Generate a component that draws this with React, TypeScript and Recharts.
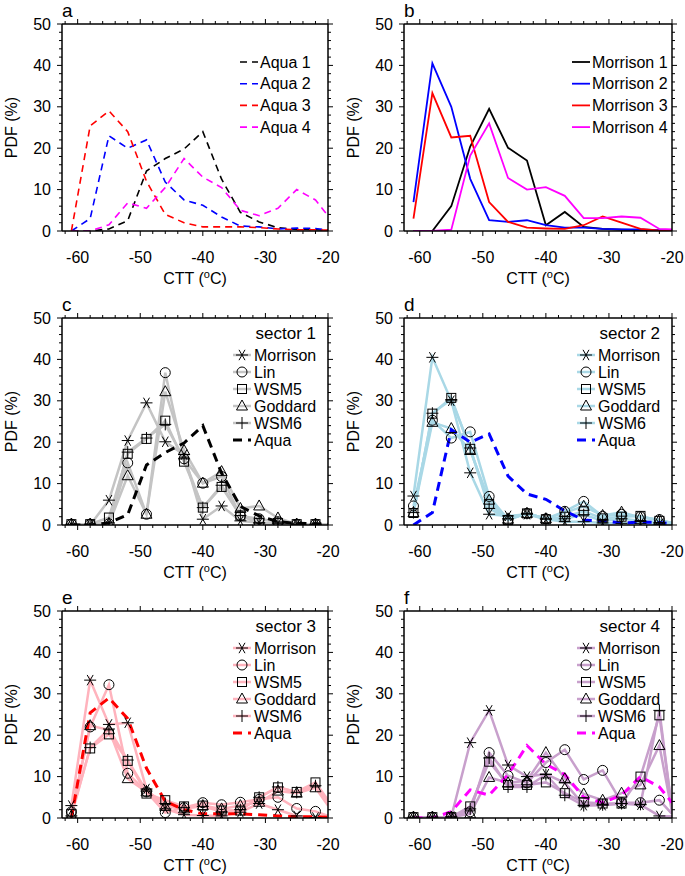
import React from 'react';
import { LineChart, Line, XAxis, YAxis } from 'recharts';

const FONT = '"Liberation Sans", Arial, Helvetica, sans-serif';

// CTT bin centres (°C)
const ctt = [-61, -58, -55, -52, -49, -46, -43, -40, -37, -34, -31, -28, -25, -22, -20];

// axis ticks
const xTickValues = [-62, -60, -58, -56, -54, -52, -50, -48, -46, -44, -42, -40, -38, -36, -34, -32, -30, -28, -26, -24, -22, -20];
const yTickValues = [0, 2, 4, 6, 8, 10, 12, 14, 16, 18, 20, 22, 24, 26, 28, 30, 32, 34, 36, 38, 40, 42, 44, 46, 48, 50];
const xMajorLabels = [-60, -50, -40, -30, -20];
const yMajorLabels = [0, 10, 20, 30, 40, 50];

// Aqua observations (PDF %)
const aqua1 = [0, 0, 0.5, 2.5, 14.5, 17.5, 19.8, 24, 12.5, 4.5, 2.2, 0.8, 0.4, 0.3, 0.2];
const aqua2 = [0, 3, 23, 20, 22, 11.8, 7.5, 6.2, 3.4, 1.2, 1, 0.5, 0.7, 0.6, 0.3];
const aqua3 = [0, 25.4, 29, 24, 12, 4, 2, 1, 1, 1, 0.8, 0.5, 0.3, 0.3, 0.2];
const aqua4 = [0, 0, 1.5, 6.8, 5.5, 10.5, 17.5, 13, 10.5, 5, 3.7, 5.5, 10, 7.5, 3.7];

// Morrison scheme per sector
const morrison1 = [0, 0, 6, 20.4, 29.5, 20.1, 17, 1.4, 4.6, 1, 0.5, 0.3, 0.2, 0.1, 0];
const morrison2 = [7, 40.5, 30, 12.6, 2.6, 2.2, 2.6, 1.4, 0.8, 0.8, 0.5, 0.4, 0.4, 0.2, 0.1];
const morrison3 = [3, 33.3, 22.6, 23, 7, 2.2, 0.8, 0.6, 0.5, 1.4, 3.5, 2, 0.5, 0.1, 0];
const morrison4 = [0, 0, 0.3, 18.2, 26, 12.8, 10, 10.6, 8.5, 3.1, 3.1, 3.5, 3.2, 0.5, 0.4];

// Sector 1
const lin1 = [0.2, 0.2, 0.3, 15, 2.6, 36.8, 16, 10.1, 11.7, 2.2, 1.5, 0.8, 0.2, 0.2, 0];
const wsm5_1 = [0.2, 0.2, 1.8, 17.2, 20.8, 25.2, 15.3, 4.2, 9.2, 2.3, 0.5, 0.5, 0.2, 0.2, 0];
const goddard1 = [0.2, 0.2, 0.3, 11.9, 2.6, 32.2, 18, 10.1, 12.9, 4, 4.6, 1.7, 0.2, 0.2, 0];
const wsm6_1 = [0.2, 0.2, 0.5, 17.6, 21, 24.3, 16, 4.2, 9.6, 2.3, 0.5, 0.5, 0.2, 0.2, 0];

// Sector 2
const lin2 = [4.6, 25.3, 21, 22.5, 6.9, 1.3, 2.8, 1.5, 3.3, 5.7, 2.1, 2.6, 2, 1.3, 0.5];
const wsm5_2 = [2.9, 26.9, 30.7, 18.4, 5.1, 1.2, 2.8, 1.4, 2, 3.3, 1.6, 2, 2.2, 1, 0.4];
const goddard2 = [3, 24.8, 23.3, 18, 6, 1.4, 2.8, 1.5, 3, 4.5, 2.3, 3.1, 1.8, 1.2, 0.5];
const wsm6_2 = [3, 27, 30.3, 18.6, 4, 1.5, 2.8, 1.5, 1.5, 2.5, 1, 1.5, 1, 0.6, 0.3];

// Sector 3
const lin3 = [1.5, 22, 32.2, 10.8, 6.3, 1.3, 2.5, 3.7, 3.2, 3.8, 4.5, 5, 2.3, 1.6, 0.5];
const wsm5_3 = [1, 16.8, 20.2, 13.8, 5.9, 4.3, 2.8, 3, 1.8, 1.8, 5, 7.4, 6.3, 8.6, 4.3];
const goddard3 = [0.5, 22.3, 21.3, 9.5, 6.3, 2.8, 2.2, 3, 2.2, 3, 3.8, 6.5, 6, 7.3, 3];
const wsm6_3 = [0.5, 17, 21.5, 14, 6.5, 3.5, 2.5, 2.8, 1.5, 2, 5, 7.5, 6.2, 7.8, 4];

// Sector 4
const lin4 = [0.2, 0.2, 0.2, 1.5, 15.8, 10.2, 8.5, 13.4, 16.5, 9.3, 11.5, 3.7, 3.7, 4.3, 1];
const wsm5_4 = [0.2, 0.2, 0.2, 2.8, 13.6, 8, 8, 8.6, 6, 3.8, 3.5, 3.5, 10, 24.8, 2];
const goddard4 = [0.2, 0.2, 0.2, 1, 9.8, 8.5, 9, 15.8, 9.5, 5.8, 4.3, 6, 8, 17.5, 1.5];
const wsm6_4 = [0.2, 0.2, 0.2, 2.2, 14.5, 7.5, 7.5, 10.5, 5.5, 3, 3.2, 3.5, 3.3, 26, 2];

type Shape = 'asterisk' | 'circle' | 'square' | 'triangle' | 'plus';
type Series = {
  key: string;
  name: string;
  values: number[];
  color: string;
  width: number;
  dash?: string;
  marker?: Shape;
};

function Marker({ shape, cx, cy }: { shape: Shape; cx: number; cy: number }) {
  const st = { fill: 'none', stroke: '#000', strokeWidth: 1 };
  if (shape === 'circle') return <circle cx={cx} cy={cy} r={5} {...st} />;
  if (shape === 'square') return <rect x={cx - 4.5} y={cy - 4.5} width={9} height={9} {...st} />;
  if (shape === 'triangle')
    return <polygon points={`${cx},${cy - 6} ${cx - 5.5},${cy + 4} ${cx + 5.5},${cy + 4}`} {...st} />;
  if (shape === 'plus')
    return <path d={`M${cx - 6},${cy}H${cx + 6}M${cx},${cy - 6}V${cy + 6}`} {...st} />;
  const r = 6;
  const d = [0, 60, 120]
    .map((a) => {
      const t = (a * Math.PI) / 180;
      const dx = r * Math.cos(t);
      const dy = r * Math.sin(t);
      return `M${cx - dx},${cy - dy}L${cx + dx},${cy + dy}`;
    })
    .join('');
  return <path d={d} {...st} />;
}

const makeDot = (shape: Shape) => (props: any) => {
  const { cx, cy, payload, index } = props;
  if (cx == null || cy == null || payload.x === -20) return <g key={`d${index}`} />;
  return <Marker key={`d${index}`} shape={shape} cx={cx} cy={cy} />;
};

const XTick = (props: any) => {
  const { x, y, payload, side } = props;
  const v = payload.value;
  const major = v % 10 === 0;
  const len = major ? 5 : 3;
  const dir = side === 'bottom' ? 1 : -1;
  return (
    <g>
      <line x1={x} x2={x} y1={y} y2={y + dir * len} stroke="#000" strokeWidth={1} />
      {side === 'bottom' && xMajorLabels.includes(v) && (
        <text x={x} y={y + 26} textAnchor="middle" dominantBaseline="central" fontSize={16} fontFamily={FONT} fill="#000">
          {String(v)}
        </text>
      )}
    </g>
  );
};

const YTick = (props: any) => {
  const { x, y, payload, side } = props;
  const v = payload.value;
  const major = v % 10 === 0;
  const len = major ? 5 : 3;
  const dir = side === 'left' ? -1 : 1;
  return (
    <g>
      <line x1={x} x2={x + dir * len} y1={y} y2={y} stroke="#000" strokeWidth={1} />
      {side === 'left' && yMajorLabels.includes(v) && (
        <text x={x - 11} y={y} textAnchor="end" dominantBaseline="central" fontSize={16} fontFamily={FONT} fill="#000">
          {String(v)}
        </text>
      )}
    </g>
  );
};

type PanelProps = {
  left: number;
  top: number;
  plotW: number;
  letter: string;
  series: Series[];
  sector?: string;
  legendLineStart: number; // offset from frame right
};

const FRAME_L = 62;
const FRAME_T = 24;
const FRAME_B = 231;
const CHART_H = 287;

function Panel({ left, top, plotW, letter, series, sector, legendLineStart }: PanelProps) {
  const chartW = FRAME_L + plotW + 13;
  const frameR = FRAME_L + plotW;
  const rows = ctt.map((x, i) => {
    const r: any = { x };
    series.forEach((s) => {
      r[s.key] = s.values[i];
    });
    return r;
  });
  const axisLine = { stroke: '#000', strokeWidth: 1.5 };
  return (
    <div style={{ position: 'absolute', left, top, width: chartW, height: CHART_H }}>
      <LineChart
        width={chartW}
        height={CHART_H}
        data={rows}
        margin={{ top: FRAME_T - 5, left: FRAME_L - 30, right: chartW - frameR - 5, bottom: CHART_H - FRAME_B - 20 }}
      >
        <XAxis
          xAxisId="b"
          type="number"
          dataKey="x"
          domain={[-62.5, -20]}
          allowDataOverflow
          ticks={xTickValues}
          interval={0}
          height={20}
          tickSize={0}
          tickMargin={0}
          tickLine={false}
          axisLine={axisLine}
          tick={<XTick side="bottom" />}
        />
        <XAxis
          xAxisId="t"
          orientation="top"
          type="number"
          dataKey="x"
          domain={[-62.5, -20]}
          allowDataOverflow
          ticks={xTickValues}
          interval={0}
          height={5}
          tickSize={0}
          tickMargin={0}
          tickLine={false}
          axisLine={axisLine}
          tick={<XTick side="top" />}
        />
        <YAxis
          yAxisId="l"
          type="number"
          domain={[0, 50]}
          allowDataOverflow
          ticks={yTickValues}
          interval={0}
          width={30}
          tickSize={0}
          tickMargin={0}
          tickLine={false}
          axisLine={axisLine}
          tick={<YTick side="left" />}
        />
        <YAxis
          yAxisId="r"
          orientation="right"
          type="number"
          domain={[0, 50]}
          allowDataOverflow
          ticks={yTickValues}
          interval={0}
          width={5}
          tickSize={0}
          tickMargin={0}
          tickLine={false}
          axisLine={axisLine}
          tick={<YTick side="right" />}
        />
        {series.map((s) => (
          <Line
            key={s.key}
            xAxisId="b"
            yAxisId="l"
            type="linear"
            dataKey={s.key}
            stroke={s.color}
            strokeWidth={s.width}
            strokeDasharray={s.dash}
            dot={s.marker ? makeDot(s.marker) : false}
            activeDot={false}
            isAnimationActive={false}
          />
        ))}
      </LineChart>
      <svg
        width={chartW}
        height={CHART_H}
        style={{ position: 'absolute', left: 0, top: 0, pointerEvents: 'none' }}
        fontFamily={FONT}
      >
        <text x={FRAME_L} y={17} fontSize={19} fill="#000">
          {letter}
        </text>
        <text
          x={11}
          y={(FRAME_T + FRAME_B) / 2}
          fontSize={16}
          fill="#000"
          textAnchor="middle"
          dominantBaseline="central"
          transform={`rotate(-90 11 ${(FRAME_T + FRAME_B) / 2})`}
        >
          PDF (%)
        </text>
        <text x={FRAME_L + plotW / 2} y={FRAME_B + 53} fontSize={16} fill="#000" textAnchor="middle">
          CTT (<tspan dy={-6} fontSize={11}>o</tspan>
          <tspan dy={6}>C)</tspan>
        </text>
        {sector ? (
          <g>
            <text x={frameR - 12} y={FRAME_T + 21} fontSize={17} fill="#000" textAnchor="end">
              {sector}
            </text>
            {series.map((s, i) => {
              const cy = FRAME_T + 37 + 17 * i;
              return (
                <g key={s.key}>
                  <line
                    x1={frameR - legendLineStart}
                    x2={frameR - legendLineStart + 18}
                    y1={cy}
                    y2={cy}
                    stroke={s.color}
                    strokeWidth={s.width}
                    strokeDasharray={s.dash}
                  />
                  {s.marker && <Marker shape={s.marker} cx={frameR - legendLineStart + 9} cy={cy} />}
                  <text x={frameR - legendLineStart + 21} y={cy} fontSize={16} fill="#000" dominantBaseline="central">
                    {s.name}
                  </text>
                </g>
              );
            })}
          </g>
        ) : (
          <g>
            {series.map((s, i) => {
              const cy = FRAME_T + 38 + 21.7 * i;
              return (
                <g key={s.key}>
                  <line
                    x1={frameR - legendLineStart}
                    x2={frameR - legendLineStart + 18}
                    y1={cy}
                    y2={cy}
                    stroke={s.color}
                    strokeWidth={s.width}
                    strokeDasharray={s.dash}
                  />
                  <text x={frameR - legendLineStart + 20} y={cy} fontSize={16} fill="#000" dominantBaseline="central">
                    {s.name}
                  </text>
                </g>
              );
            })}
          </g>
        )}
      </svg>
    </div>
  );
}

const AQ_DASH_THIN = '7 5';
const AQ_DASH = '9 6';

function sectorSeries(
  morrison: number[],
  lin: number[],
  wsm5: number[],
  goddard: number[],
  wsm6: number[],
  aqua: number[],
  lineColor: string,
  aquaColor: string
): Series[] {
  return [
    { key: 'morrison', name: 'Morrison', values: morrison, color: lineColor, width: 2.5, marker: 'asterisk' },
    { key: 'lin', name: 'Lin', values: lin, color: lineColor, width: 2.5, marker: 'circle' },
    { key: 'wsm5', name: 'WSM5', values: wsm5, color: lineColor, width: 2.5, marker: 'square' },
    { key: 'goddard', name: 'Goddard', values: goddard, color: lineColor, width: 2.5, marker: 'triangle' },
    { key: 'wsm6', name: 'WSM6', values: wsm6, color: lineColor, width: 2.5, marker: 'plus' },
    { key: 'aqua', name: 'Aqua', values: aqua, color: aquaColor, width: 3, dash: AQ_DASH },
  ];
}

export default function App() {
  const aSeries: Series[] = [
    { key: 'a1', name: 'Aqua 1', values: aqua1, color: '#000000', width: 1.6, dash: AQ_DASH_THIN },
    { key: 'a2', name: 'Aqua 2', values: aqua2, color: '#0000ff', width: 1.6, dash: AQ_DASH_THIN },
    { key: 'a3', name: 'Aqua 3', values: aqua3, color: '#ff0000', width: 1.6, dash: AQ_DASH_THIN },
    { key: 'a4', name: 'Aqua 4', values: aqua4, color: '#ff00ff', width: 1.6, dash: AQ_DASH_THIN },
  ];
  const bSeries: Series[] = [
    { key: 'm1', name: 'Morrison 1', values: morrison1, color: '#000000', width: 1.8 },
    { key: 'm2', name: 'Morrison 2', values: morrison2, color: '#0000ff', width: 1.8 },
    { key: 'm3', name: 'Morrison 3', values: morrison3, color: '#ff0000', width: 1.8 },
    { key: 'm4', name: 'Morrison 4', values: morrison4, color: '#ff00ff', width: 1.8 },
  ];
  return (
    <div
      style={{
        position: 'absolute',
        left: 0,
        top: 0,
        width: 685,
        height: 876,
        overflow: 'hidden',
        background: '#fff',
      }}
    >
      <Panel left={0} top={0} plotW={266} letter="a" series={aSeries} legendLineStart={88} />
      <Panel left={342} top={0} plotW={268} letter="b" series={bSeries} legendLineStart={100} />
      <Panel
        left={0}
        top={294}
        plotW={266}
        letter="c"
        sector="sector 1"
        series={sectorSeries(morrison1, lin1, wsm5_1, goddard1, wsm6_1, aqua1, '#c4c4c4', '#000000')}
        legendLineStart={95}
      />
      <Panel
        left={342}
        top={294}
        plotW={268}
        letter="d"
        sector="sector 2"
        series={sectorSeries(morrison2, lin2, wsm5_2, goddard2, wsm6_2, aqua2, '#a9d8e6', '#0000ff')}
        legendLineStart={95}
      />
      <Panel
        left={0}
        top={587}
        plotW={266}
        letter="e"
        sector="sector 3"
        series={sectorSeries(morrison3, lin3, wsm5_3, goddard3, wsm6_3, aqua3, '#ffb3bd', '#ff0000')}
        legendLineStart={95}
      />
      <Panel
        left={342}
        top={587}
        plotW={268}
        letter="f"
        sector="sector 4"
        series={sectorSeries(morrison4, lin4, wsm5_4, goddard4, wsm6_4, aqua4, '#c8a0cc', '#ff00ff')}
        legendLineStart={95}
      />
    </div>
  );
}
